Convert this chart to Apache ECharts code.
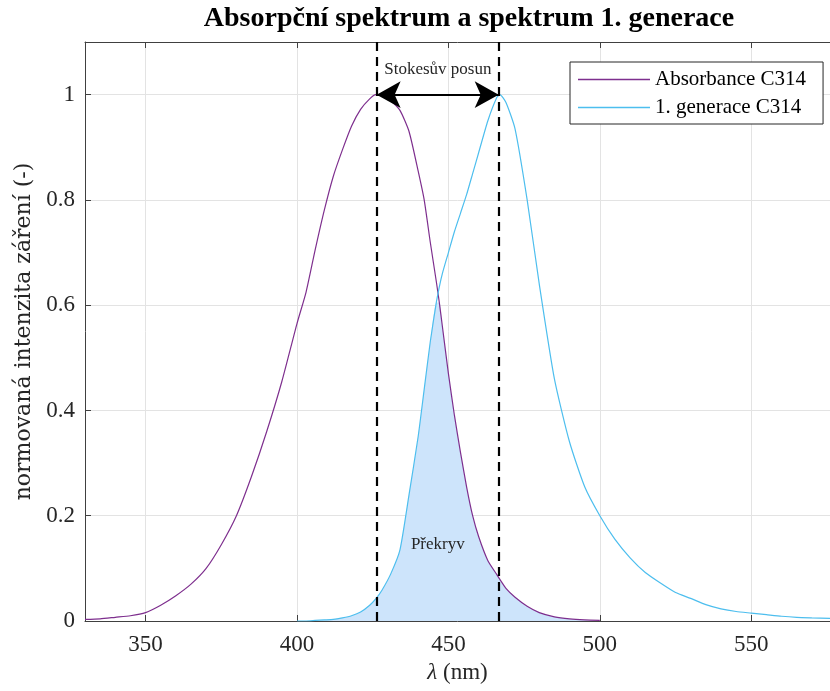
<!DOCTYPE html>
<html>
<head>
<meta charset="utf-8">
<script src="https://cdn.jsdelivr.net/npm/echarts@6/dist/echarts.min.js"></script>
<style>html,body{margin:0;padding:0;background:#fff}#c{width:830px;height:691px}</style>
</head>
<body>
<div id="c"></div>
<script>
// Absorbance C314 (purple)
const absX = [330,335,340,345,350,355,360,365,370,375,380,385,390,395,
  400,403,406,409,412,415,418,421,424,426,428,431,434,437,440,442,444,446,447,448,450,452,454,456,458,460,463,466,467,469,472,476,480,485,490,495,500];
const absY = [0.003,0.004,0.007,0.010,0.016,0.030,0.048,0.070,0.100,0.145,0.200,0.275,0.360,0.455,
  0.565,0.625,0.705,0.780,0.845,0.895,0.940,0.972,0.992,1.000,0.998,0.988,0.970,0.930,0.855,0.800,0.720,0.645,0.605,0.560,0.470,0.390,0.320,0.255,0.200,0.160,0.115,0.088,0.079,0.062,0.045,0.028,0.016,0.008,0.004,0.002,0.001];
// 1. generace C314 (cyan)
const emX = [400,403,406,409,412,415,418,421,424,426,428,431,434,437,440,442,444,446,447,448,450,452,454,456,458,460,463,466,467,469,472,476,480,485,490,495,500,
  505,510,515,520,525,530,535,540,545,550,555,560,565,570,576];
const emY = [0.000,0.000,0.001,0.002,0.003,0.006,0.010,0.017,0.030,0.042,0.058,0.090,0.135,0.240,0.350,0.440,0.530,0.605,0.635,0.660,0.700,0.740,0.775,0.810,0.850,0.890,0.950,0.995,1.000,0.985,0.935,0.800,0.640,0.460,0.340,0.255,0.200,
  0.155,0.120,0.092,0.072,0.054,0.043,0.031,0.023,0.018,0.015,0.012,0.009,0.007,0.006,0.005];
// peaks and annotations
const peakAbs = 426.3;
const peakEm = 466.6;
const xTicks = [350,400,450,500,550];
const yTicks = [0,0.2,0.4,0.6,0.8,1];
const seriesNames = ['Absorbance C314','1. generace C314'];
const titleText = 'Absorpční spektrum a spektrum 1. generace';
const shiftLabel = 'Stokesův posun';
const overlapLabel = 'Překryv';

const absData = absX.map((x,i)=>[x,absY[i]]);
const emData = emX.map((x,i)=>[x,emY[i]]);
// overlap = min of both curves on their shared wavelengths
const absMap = new Map(absX.map((x,i)=>[x,absY[i]]));
const overlapData = emX.filter(x=>absMap.has(x)).map(x=>{
  const e = emY[emX.indexOf(x)];
  return [x, Math.min(e, absMap.get(x))];
});

const FONT = 'Liberation Serif';
const axisCol = '#404040';
const SMOOTH = 0.2;
const chart = echarts.init(document.getElementById('c'), null, {renderer:'canvas'});
chart.setOption({
  animation:false,
  backgroundColor:'#fff',
  title:{text:titleText,left:464,top:0,textAlign:'center',
    textStyle:{fontFamily:FONT,fontSize:28,fontWeight:'bold',color:'#000'}},
  grid:{left:85,right:0,top:42,bottom:70,show:false},
  legend:{data:seriesNames,orient:'vertical',left:570,top:62,icon:'rect',
    itemWidth:72,itemHeight:1.5,itemGap:7,padding:[7,17,6,8],
    backgroundColor:'#fff',borderColor:'#262626',borderWidth:1,
    textStyle:{fontFamily:FONT,fontSize:21,color:'#000'}},
  xAxis:[{type:'value',min:330,max:576,position:'bottom',
    name:'{i|λ} (nm)',nameLocation:'middle',nameGap:40,
    nameTextStyle:{fontFamily:FONT,fontSize:23,color:'#262626',
      rich:{i:{fontFamily:FONT,fontSize:23,fontStyle:'italic',color:'#262626'}}},
    axisLine:{show:true,lineStyle:{color:axisCol,width:1}},
    axisTick:{show:true,inside:true,length:6,customValues:xTicks,lineStyle:{color:axisCol}},
    axisLabel:{customValues:xTicks,fontFamily:FONT,fontSize:23,color:'#262626',margin:12},
    splitLine:{show:true,lineStyle:{color:'#e3e3e3',width:1}}},
   {type:'value',min:330,max:576,position:'top',
    axisLine:{show:true,onZero:false,lineStyle:{color:axisCol,width:1}},
    axisTick:{show:true,inside:true,length:6,customValues:xTicks,lineStyle:{color:axisCol}},
    axisLabel:{show:false},splitLine:{show:false}}],
  yAxis:{type:'value',min:0,max:1.1,
    name:'normovaná intenzita záření (-)',nameLocation:'middle',nameGap:46,
    nameTextStyle:{fontFamily:'DejaVu Serif',fontSize:22,color:'#262626'},
    axisLine:{show:true,lineStyle:{color:axisCol,width:1}},
    axisTick:{show:true,inside:true,length:6,customValues:yTicks,lineStyle:{color:axisCol}},
    axisLabel:{customValues:yTicks,fontFamily:FONT,fontSize:23,color:'#262626',margin:10},
    splitLine:{show:true,lineStyle:{color:'#e3e3e3',width:1}}},
  series:[
    {name:'overlap',type:'line',data:overlapData,showSymbol:false,symbol:'none',
     smooth:SMOOTH,
     lineStyle:{width:0,opacity:0},areaStyle:{color:'#cde4fb',opacity:1},z:1,silent:true,
     markPoint:{symbol:'circle',symbolSize:0,silent:true,
       label:{show:true,position:'inside',fontFamily:FONT,fontSize:17,color:'#262626',formatter:'{b}'},
       data:[{name:overlapLabel,coord:[446.5,0.146]},{name:shiftLabel,coord:[446.5,1.047]}]}},
    {name:seriesNames[0],type:'line',data:absData,showSymbol:false,symbol:'none',
     smooth:SMOOTH,
     lineStyle:{color:'#7E2F8E',width:1.2},itemStyle:{color:'#7E2F8E'},z:3},
    {name:seriesNames[1],type:'line',data:emData,showSymbol:false,symbol:'none',
     smooth:SMOOTH,
     lineStyle:{color:'#4DBEEE',width:1.2},itemStyle:{color:'#4DBEEE'},z:3,
     markLine:{silent:true,symbol:['none','none'],label:{show:false},
       lineStyle:{color:'#000',type:[9,6],width:2.2},
       data:[{xAxis:peakAbs},{xAxis:peakEm}]}},
    {name:'shift',type:'line',data:[],z:4,
     markLine:{silent:true,symbol:['arrow','arrow'],symbolSize:[20,24],label:{show:false},
       lineStyle:{color:'#000',type:'solid',width:2.2},
       data:[[{coord:[peakAbs,1.0]},{coord:[peakEm,1.0]}]]}}
  ]
});
</script>
</body>
</html>
